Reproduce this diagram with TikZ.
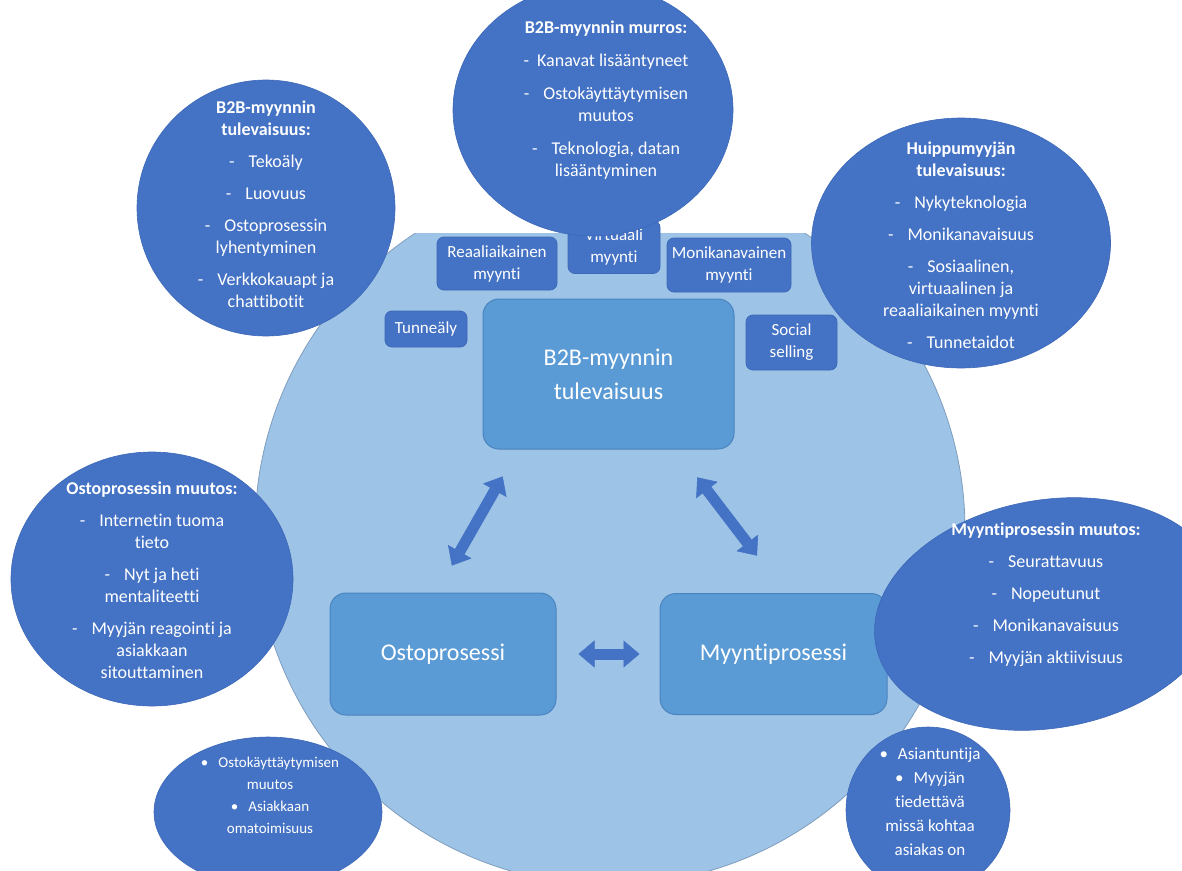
\documentclass[tikz,border=0pt]{standalone}
\usepackage{fontspec}
\setmainfont{Carlito}[Ligatures={TeX,NoCommon}]
\usetikzlibrary{shapes.geometric,arrows.meta,calc}
\definecolor{ringblue}{HTML}{9DC3E6}
\definecolor{ringedge}{HTML}{7F9DBD}
\definecolor{bubbleblue}{HTML}{4472C4}
\definecolor{bubbleedge}{HTML}{3D68B8}
\definecolor{boxblue}{HTML}{5B9BD5}
\definecolor{boxedge}{HTML}{4A84C0}
\newcommand{\dashitem}{-\hspace{14pt}}
\newcommand{\dotitem}{\textbullet\hspace{10pt}}
\tikzset{
  bubble/.style={ellipse, fill=bubbleblue, draw=bubbleedge, line width=.6pt, inner sep=0pt},
  bubtext/.style={text=white, align=center, font=\fontsize{18}{22}\selectfont},
  smalltext/.style={text=white, align=center, font=\fontsize{17}{24}\selectfont},
  procbox/.style={rounded corners=16pt, fill=boxblue, draw=boxedge, line width=1pt, text=white, align=center, font=\fontsize{24}{34}\selectfont},
  tagbox/.style={rounded corners=7pt, fill=bubbleblue, draw=bubbleedge, line width=.8pt, text=white, align=center, inner sep=0pt, font=\fontsize{17}{22}\selectfont},
  duoarrow/.style={draw=bubbleblue, line width=11pt, {Triangle[width=27pt,length=16pt,line width=.5pt]}-{Triangle[width=27pt,length=16pt,line width=.5pt]}}
}
\begin{document}
\begin{tikzpicture}[x=1pt,y=-1pt]
\useasboundingbox (0,0) rectangle (1182,870);
\begin{scope}
\clip (0,233) rectangle (1182,870);
\filldraw[fill=ringblue, draw=ringedge, line width=.8pt] (610,530) circle[radius=355];
\end{scope}
\node[procbox, minimum width=251pt, minimum height=150pt] (b2b) at (608.5,374) {B2B-myynnin\\tulevaisuus};
\node[procbox, minimum width=226pt, minimum height=122pt] (osto) at (443,654) {Ostoprosessi};
\node[procbox, minimum width=227pt, minimum height=121pt] (myynti) at (773.5,654) {Myyntiprosessi};
\node[tagbox, minimum width=120pt, minimum height=53pt] (reaal) at (497,263.5) {Reaaliaikainen\\myynti};
\node[tagbox, minimum width=92pt, minimum height=53pt] (virt) at (614,247) {Virtuaali\\myynti};
\node[tagbox, minimum width=124pt, minimum height=54pt] (monik) at (729,265) {Monikanavainen\\myynti};
\node[tagbox, minimum width=82pt, minimum height=36pt] (tunne) at (426,329) {Tunneäly};
\node[tagbox, minimum width=91pt, minimum height=55pt] (social) at (791.5,342.5) {Social\\selling};
\draw[duoarrow, shorten <=31pt, shorten >=31pt] ($(osto.north)+(-6.5,0)$) -- ($(b2b.south west)+(35.5,0)$);
\draw[duoarrow, shorten <=35pt, shorten >=47pt] ($(b2b.south east)+(-58.5,0)$) -- ($(myynti.north)+(12,0)$);
\draw[duoarrow, shorten <=22pt, shorten >=20pt] (osto.east) -- (myynti.west);
\node[bubble, minimum width=258pt, minimum height=256pt] (tulev) at (266,208) {};
\node[bubtext] (tulevtxt) at (266,204) {\textbf{B2B-myynnin}\\\textbf{tulevaisuus:}\\[10pt]\dashitem Tekoäly\\[10pt]\dashitem Luovuus\\[10pt]\dashitem Ostoprosessin\\lyhentyminen\\[10pt]\dashitem Verkkokauapt ja\\chattibotit};
\node[bubble, minimum width=280pt, minimum height=252pt] (murros) at (593,110) {};
\node[bubtext] (murrostxt) at (606,100) {\textbf{B2B-myynnin murros:}\\[11pt]-\hspace{8pt}Kanavat lisääntyneet\\[11pt]\dashitem Ostokäyttäytymisen\\muutos\\[11pt]\dashitem Teknologia, datan\\lisääntyminen};
\node[bubble, minimum width=299pt, minimum height=250pt] (huippu) at (961,243) {};
\node[bubtext] (huipputxt) at (961,245) {\textbf{Huippumyyjän}\\\textbf{tulevaisuus:}\\[10pt]\dashitem Nykyteknologia\\[10pt]\dashitem Monikanavaisuus\\[10pt]\dashitem Sosiaalinen,\\virtuaalinen ja\\reaaliaikainen myynti\\[10pt]\dashitem Tunnetaidot};
\node[bubble, minimum width=282pt, minimum height=254pt] (ostomuutos) at (152,579) {};
\node[bubtext] (ostomuutostxt) at (152,580) {\textbf{Ostoprosessin muutos:}\\[10pt]\dashitem Internetin tuoma\\tieto\\[10pt]\dashitem Nyt ja heti\\mentaliteetti\\[10pt]\dashitem Myyjän reagointi ja\\asiakkaan\\sitouttaminen};
\node[bubble, minimum width=350pt, minimum height=228pt, rotate=10] (myyntimuutos) at (1048,614) {};
\node[bubtext] (myyntimuutostxt) at (1046,595) {\textbf{Myyntiprosessin muutos:}\\[10pt]\dashitem Seurattavuus\\[10pt]\dashitem Nopeutunut\\[10pt]\dashitem Monikanavaisuus\\[10pt]\dashitem Myyjän aktiivisuus};
\node[bubble, minimum width=228pt, minimum height=150pt] (ostoext) at (268,812) {};
\node[smalltext, font=\fontsize{15}{22}\selectfont] (ostoexttxt) at (270,795) {\dotitem Ostokäyttäytymisen\\muutos\\\dotitem Asiakkaan\\omatoimisuus};
\node[bubble, minimum width=164pt, minimum height=166pt] (myyntiext) at (928,810) {};
\node[smalltext] (myyntiexttxt) at (930,802) {\dotitem Asiantuntija\\\dotitem Myyjän\\tiedettävä\\missä kohtaa\\asiakas on};
\end{tikzpicture}
\end{document}
